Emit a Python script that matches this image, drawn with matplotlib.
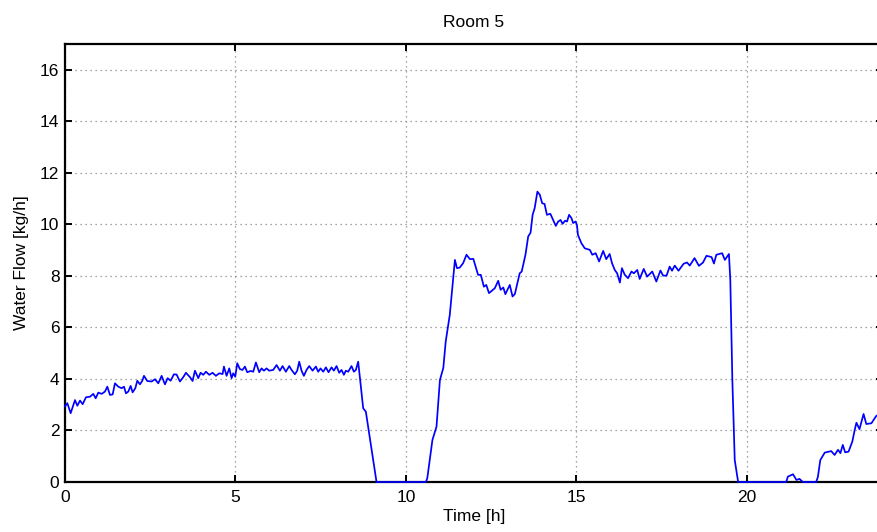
import matplotlib
matplotlib.use("Agg")
import matplotlib.pyplot as plt

title = "Room 5"
x_label = "Time [h]"
y_label = "Water Flow [kg/h]"
x_ticks = [0, 5, 10, 15, 20]
y_ticks = [0, 2, 4, 6, 8, 10, 12, 14, 16]

# Segment values (hours, kg/h)
t_morning = [0.0, 0.068, 0.166, 0.293, 0.362, 0.44, 0.518, 0.616, 0.733, 0.831, 0.9, 0.978,
             1.075, 1.173, 1.241, 1.32, 1.398, 1.466, 1.564, 1.662, 1.73, 1.789, 1.857, 1.926,
             1.984, 2.063, 2.121, 2.199, 2.268, 2.317, 2.414, 2.541, 2.639, 2.737, 2.835, 2.933,
             3.011, 3.099, 3.196, 3.275, 3.372, 3.47, 3.548, 3.666, 3.744, 3.812, 3.91, 3.978,
             4.057, 4.135, 4.233, 4.33, 4.428, 4.526, 4.624, 4.663, 4.741, 4.819, 4.888, 4.936,
             4.995, 5.054, 5.132, 5.21, 5.279, 5.347, 5.445, 5.523, 5.601, 5.699, 5.767, 5.836,
             5.914, 5.992, 6.109, 6.207, 6.305, 6.383, 6.481, 6.579, 6.647, 6.745, 6.813, 6.872,
             6.94, 7.009, 7.087, 7.165, 7.263, 7.361, 7.429, 7.497, 7.576, 7.654, 7.732, 7.82,
             7.889, 7.967, 8.045, 8.113, 8.182, 8.24, 8.309, 8.407, 8.475, 8.534, 8.602, 8.749,
             8.827, 9.14]
v_morning = [2.93, 3.06, 2.67, 3.18, 2.96, 3.16, 3.02, 3.29, 3.31, 3.42, 3.25, 3.47,
             3.42, 3.51, 3.70, 3.38, 3.40, 3.83, 3.70, 3.64, 3.70, 3.44, 3.51, 3.73,
             3.48, 3.64, 3.93, 3.79, 3.93, 4.12, 3.92, 3.90, 3.99, 3.83, 4.12, 3.79,
             4.03, 3.93, 4.18, 4.17, 3.90, 4.07, 4.24, 4.07, 3.92, 4.32, 4.03, 4.24,
             4.16, 4.28, 4.16, 4.24, 4.12, 4.22, 4.19, 4.48, 4.12, 4.41, 4.03, 4.22,
             4.09, 4.61, 4.38, 4.35, 4.48, 4.26, 4.31, 4.28, 4.64, 4.26, 4.41, 4.32,
             4.41, 4.32, 4.35, 4.54, 4.32, 4.50, 4.28, 4.50, 4.35, 4.18, 4.32, 4.67,
             4.32, 4.12, 4.35, 4.50, 4.32, 4.48, 4.28, 4.41, 4.28, 4.45, 4.26, 4.45,
             4.32, 4.50, 4.24, 4.35, 4.16, 4.32, 4.28, 4.50, 4.28, 4.35, 4.67, 2.86,
             2.73, 0.0]

t_day = [10.59, 10.63, 10.78, 10.9, 11.0, 11.1, 11.17, 11.29, 11.44, 11.5, 11.58, 11.68,
         11.78, 11.88, 11.98, 12.12, 12.2, 12.29, 12.36, 12.44, 12.61, 12.71, 12.78, 12.86,
         12.92, 13.05, 13.13, 13.2, 13.34, 13.4, 13.51, 13.59, 13.66, 13.72, 13.78, 13.86,
         13.93, 14.0, 14.07, 14.14, 14.24, 14.32, 14.4, 14.47, 14.54, 14.6, 14.67, 14.73,
         14.79, 14.86, 14.91, 14.98, 15.02, 15.05, 15.15, 15.25, 15.4, 15.47, 15.57, 15.67,
         15.79, 15.88, 15.98, 16.05, 16.13, 16.2, 16.28, 16.34, 16.42, 16.52, 16.62, 16.69,
         16.79, 16.86, 16.98, 17.08, 17.23, 17.35, 17.47, 17.55, 17.65, 17.74, 17.81, 17.89,
         18.0, 18.15, 18.25, 18.33, 18.47, 18.6, 18.72, 18.82, 18.97, 19.04, 19.11, 19.28,
         19.36, 19.48, 19.52, 19.58, 19.65, 19.75]
v_day = [0.0, 0.15, 1.63, 2.15, 3.96, 4.43, 5.45, 6.49, 8.62, 8.30, 8.32, 8.49,
         8.82, 8.65, 8.66, 8.04, 8.04, 7.58, 7.65, 7.33, 7.52, 7.81, 7.46, 7.55,
         7.29, 7.65, 7.20, 7.30, 8.10, 8.17, 8.82, 9.53, 9.68, 10.37, 10.63, 11.27,
         11.15, 10.82, 10.79, 10.37, 10.41, 10.17, 9.94, 10.11, 10.17, 10.02, 10.14, 10.11,
         10.37, 10.24, 10.05, 10.11, 9.98, 9.59, 9.27, 9.07, 9.01, 8.82, 8.88, 8.56,
         8.97, 8.65, 8.85, 8.49, 8.23, 8.10, 7.74, 8.30, 8.05, 7.91, 8.17, 8.10,
         8.23, 7.88, 8.27, 7.97, 8.17, 7.78, 8.21, 8.01, 8.01, 8.36, 8.20, 8.40,
         8.20, 8.47, 8.52, 8.40, 8.69, 8.39, 8.52, 8.78, 8.73, 8.48, 8.82, 8.88,
         8.62, 8.85, 7.84, 3.96, 0.85, 0.0]

t_evening = [21.16, 21.21, 21.36, 21.46, 21.55, 21.65, 22.04, 22.09, 22.16, 22.29, 22.48,
             22.58, 22.68, 22.75, 22.82, 22.89, 22.99, 23.1, 23.17, 23.22, 23.31, 23.43,
             23.51, 23.66, 23.8, 23.9]
v_evening = [0.0, 0.21, 0.30, 0.08, 0.12, 0.0, 0.0, 0.20, 0.85, 1.14, 1.20,
             1.05, 1.25, 1.12, 1.44, 1.15, 1.18, 1.57, 2.02, 2.30, 2.05, 2.64,
             2.25, 2.28, 2.56, 2.65]

t = t_morning + t_day + t_evening
v = v_morning + v_day + v_evening

plt.rcParams['font.family'] = ['Liberation Sans', 'DejaVu Sans']

fig = plt.figure(figsize=(8.77, 5.32), dpi=100)
ax = fig.add_axes([65 / 877, 50 / 532, 818 / 877, 438 / 532])

ax.plot(t, v, color=(0, 0, 1), lw=1.25, zorder=3, clip_on=False)

ax.set_xlim(0, 24)
ax.set_ylim(0, 17)
ax.set_xticks(x_ticks)
ax.set_yticks(y_ticks)
ax.tick_params(direction='in', top=True, right=True, labelsize=12.5, length=5, width=1.4)
ax.tick_params(axis='x', pad=6)
ax.tick_params(axis='y', pad=4)
for s in ax.spines.values():
    s.set_linewidth(1.6)
ax.grid(True, linestyle=(0, (1, 3)), color='#888888', lw=0.9)
ax.set_axisbelow(True)

ax.set_title(title, fontsize=12.5, pad=12)
ax.set_xlabel(x_label, fontsize=12.5, labelpad=3)
ax.set_ylabel(y_label, fontsize=12.5, labelpad=8)

fig.savefig("out.png", dpi=100)
